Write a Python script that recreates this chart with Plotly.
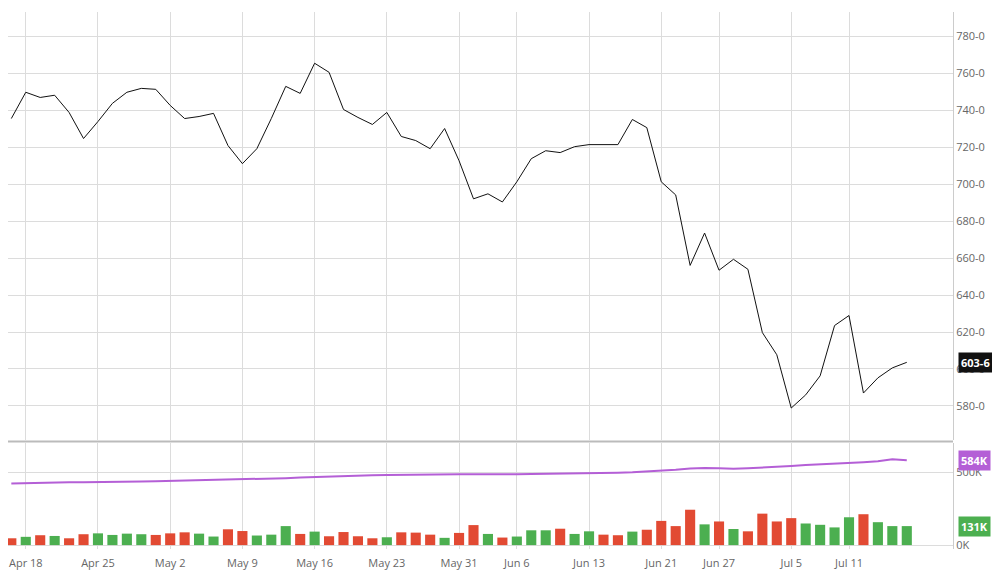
import plotly.graph_objects as go

prices = [735.4,749.6,746.8,748,738.7,724.6,733.8,743.6,749.6,751.7,751.2,742.5,735.4,736.5,738.2,720.8,711,719.1,735.4,752.8,
          749,765.3,760.4,740.3,736,732.2,738.7,725.7,723.5,719.1,730,712.6,692,694.7,690.3,701.2,713.7,718,717,720.2,
          721.3,721.3,721.3,734.9,730.5,701.2,694.1,656,673.5,653.4,659.3,653.9,619.7,607.7,578.9,586,596.3,623.5,628.9,587,
          595.2,600.6,603.6]
volume = [47,57,68,63,47,75,81,70,79,75,70,81,88,79,59,109,97,66,72,131,77,93,61,90,61,47,54,88,86,72,50,84,138,77,52,59,
          102,102,113,77,95,72,68,93,106,167,131,244,143,163,111,95,217,163,186,149,140,122,192,213,158,131,131]
open_int = [425,428,430,432,433,434,434,434,436,438,440,442,444,446,448,450,452,455,458,462,
            466,470,474,478,480,482,484,486,488,489,490,489,488,487,488,489,490,491,492,494,
            496,498,500,503,507,512,520,528,532,530,526,530,534,540,546,552,556,560,566,572,
            578,593,586]
direction = ["d","g","d","g","d","d","g","g","g","g","d","d","d","g","g","d","d","g","g","g",
             "d","g","d","d","d","d","g","d","d","d","g","d","d","g","d","g","g","g","d","g",
             "g","d","d","g","d","d","d","d","g","d","g","d","d","d","d","g","g","g","g","d",
             "g","g","g"]

tick_idx = [1,6,11,16,21,26,31,35,40,45,49,54,58]
tick_lab = ["Apr 18","Apr 25","May 2","May 9","May 16","May 23","May 31","Jun 6","Jun 13","Jun 21","Jun 27","Jul 5","Jul 11"]
price_ticks = [580,600,620,640,660,680,700,720,740,760,780]

x = list(range(len(prices)))
colors = ["#4caf50" if d == "g" else "#e24a33" for d in direction]

fig = go.Figure()
fig.add_trace(go.Scatter(x=x, y=prices, mode="lines", line=dict(color="#111", width=1), yaxis="y", xaxis="x"))
fig.add_trace(go.Bar(x=x, y=volume, marker=dict(color=colors, line=dict(width=0)), width=0.7, yaxis="y2", xaxis="x2"))
fig.add_trace(go.Scatter(x=x, y=open_int, mode="lines", line=dict(color="#b45fd6", width=2), yaxis="y2", xaxis="x2"))

grid = "#dcdcdc"
tf = dict(family="Open Sans", size=11, color="#666")
xcommon = dict(range=[-0.23, 65.2], tickvals=tick_idx, ticktext=tick_lab, showgrid=True, gridcolor=grid,
               zeroline=False, automargin=False)
fig.update_layout(
    width=1000, height=578, margin=dict(l=0, r=55, t=4, b=37),
    paper_bgcolor="white", plot_bgcolor="white", showlegend=False, bargap=0.3,
    xaxis=dict(**xcommon, domain=[0, 1], anchor="y", showticklabels=False),
    xaxis2=dict(**xcommon, domain=[0, 1], anchor="y2", tickfont=tf, ticks="", ticklabelstandoff=6),
    yaxis=dict(domain=[0.2026, 1], range=[561.5, 793], side="right", tickvals=price_ticks,
               ticktext=[f"{v}-0" for v in price_ticks], tickfont=tf, gridcolor=grid, zeroline=False,
               showline=True, linecolor="#ccc", anchor="x", automargin=False),
    yaxis2=dict(domain=[0, 0.197], range=[-27, 703], side="right", tickvals=[0, 500], ticktext=["0K", "500K"],
                tickfont=tf, gridcolor=grid, zeroline=False, showline=True, linecolor="#ccc", anchor="x2",
                automargin=False),
)
fig.add_shape(type="line", xref="paper", yref="paper", x0=0, x1=1, y0=0.2, y1=0.2, line=dict(color="#bbb", width=2))

def tag(yval, yref, text, color):
    fig.add_annotation(xref="paper", yref=yref, x=1.0, y=yval, xanchor="left", text=f"<b>{text}</b>",
                       showarrow=False, bgcolor=color, font=dict(family="Open Sans", size=11, color="white"),
                       borderpad=2, xshift=5)

tag(prices[-1], "y", "603-6", "#111")
tag(open_int[-1], "y2", "584K", "#b45fd6")
tag(volume[-1], "y2", "131K", "#4caf50")

fig.write_html("out.html")
